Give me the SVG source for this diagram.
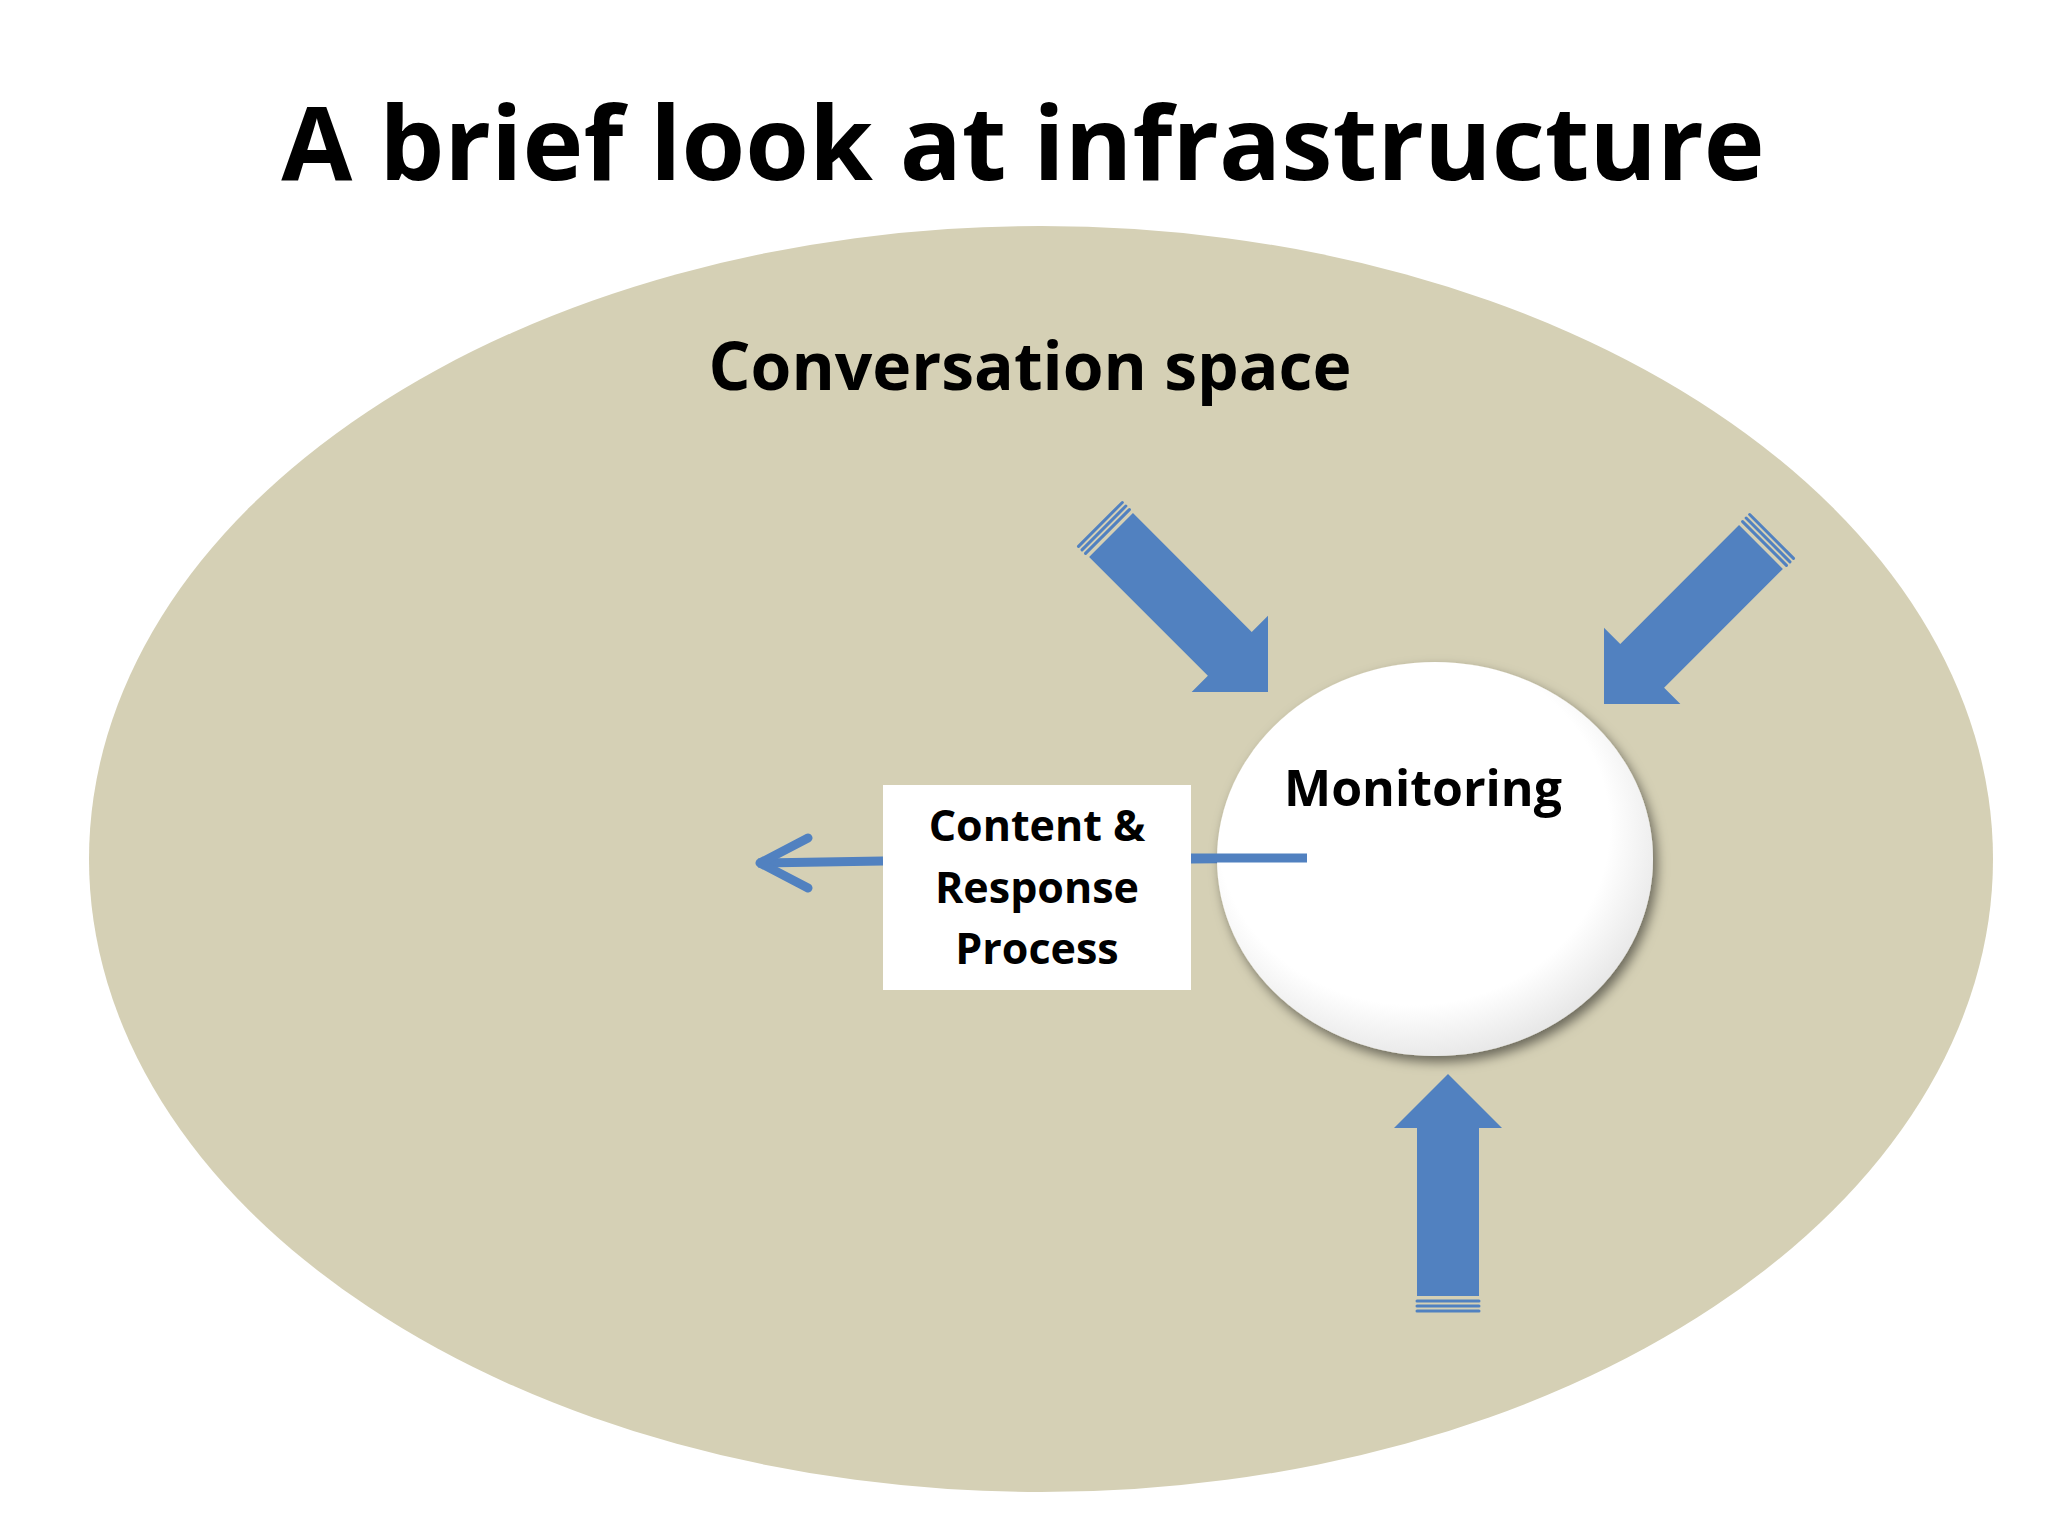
<svg xmlns="http://www.w3.org/2000/svg" width="2048" height="1536" viewBox="0 0 2048 1536">
<style>
.t{font-family:"Open Sans","Liberation Sans",sans-serif;font-weight:bold;fill:#000;text-anchor:middle}
.arr{fill:#5181c0}
.str{stroke:#5181c0;stroke-width:3}
</style>
<defs>
<radialGradient id="cg" cx="0.45" cy="0.42" r="0.6">
<stop offset="0.75" stop-color="#fff"/><stop offset="1" stop-color="#e6e6e6"/>
</radialGradient>
<filter id="sh" x="-20%" y="-20%" width="140%" height="140%">
<feDropShadow dx="4" dy="6" stdDeviation="6" flood-color="#000" flood-opacity="0.5"/>
</filter>
<g id="bigarrow">
<polygon class="arr" points="0,0 54,54 31,54 31,222 -31,222 -31,54 -54,54"/>
<line class="str" x1="-31" y1="227" x2="31" y2="227"/>
<line class="str" x1="-31" y1="232" x2="31" y2="232"/>
<line class="str" x1="-31" y1="237" x2="31" y2="237"/>
</g>
</defs>
<rect width="2048" height="1536" fill="#fff"/>
<text class="t" x="1023" y="180" font-size="103">A brief look at infrastructure</text>
<g id="space">
<ellipse cx="1041" cy="859" rx="952" ry="633" fill="#d5d0b5"/>
<text class="t" x="1030" y="390" font-size="66">Conversation space</text>
</g>
<g id="connectors" fill="none" stroke="#5181c0" stroke-width="9" stroke-linecap="round">
<line x1="1307" y1="858" x2="1191" y2="859" stroke-linecap="butt"/>
<line x1="883" y1="861" x2="758" y2="863" stroke-linecap="butt"/>
<polyline points="808,838 760,863 808,888" stroke-linejoin="round"/>
<use href="#bigarrow" transform="translate(1268,692) rotate(135)" stroke="none"/>
<use href="#bigarrow" transform="translate(1604,704) rotate(-135)" stroke="none"/>
<use href="#bigarrow" transform="translate(1448,1074)" stroke="none"/>
</g>
<g id="monitoring">
<ellipse cx="1435" cy="859" rx="218" ry="197" fill="url(#cg)" filter="url(#sh)"/>
<text class="t" x="1423" y="806" font-size="50">Monitoring</text>
</g>
<g id="content">
<rect x="883" y="785" width="308" height="205" fill="#fff"/>
<line x1="1191" y1="858" x2="1307" y2="858" stroke="#5181c0" stroke-width="9"/>
<text class="t" x="1037" y="841" font-size="43">Content &amp;</text>
<text class="t" x="1037" y="903" font-size="43">Response</text>
<text class="t" x="1037" y="964" font-size="43">Process</text>
</g>
</svg>
